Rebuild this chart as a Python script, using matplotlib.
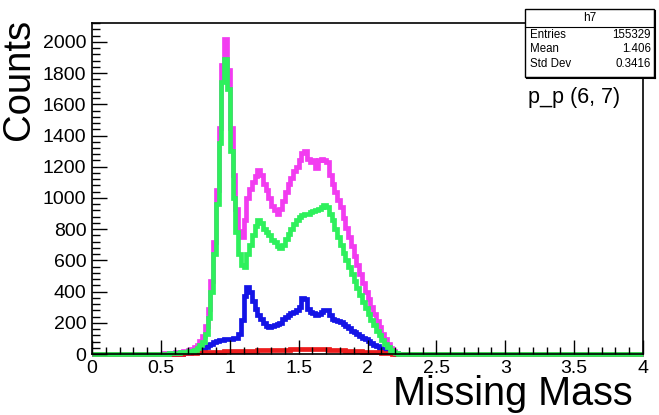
import numpy as np
import matplotlib
matplotlib.use("Agg")
import matplotlib.pyplot as plt
from matplotlib.ticker import MultipleLocator
from matplotlib.patches import Rectangle
from matplotlib.lines import Line2D

plt.rcParams['font.family'] = ['Liberation Sans', 'DejaVu Sans']

# Histogram binning: 200 bins of 0.02 over [0, 4]; filled region starts at 0.50
bin_width = 0.02
n_bins = 200
first_filled = 0.50

# Missing-mass spectra (counts per bin, starting at 0.50)
total_counts = [
    3, 4, 5, 6, 8,
    10, 12, 15, 18, 22,
    28, 35, 45, 60, 85,
    115, 180, 290, 470, 720,
    1050, 1450, 1850, 2020, 1820,
    1450, 1150, 930, 790, 750,
    860, 1000, 1060, 1100, 1140,
    1180, 1150, 1090, 1050, 1000,
    950, 920, 900, 930, 980,
    1040, 1090, 1130, 1170, 1200,
    1240, 1290, 1300, 1250, 1230,
    1240, 1190, 1240, 1250, 1240,
    1230, 1150, 1090, 1040, 990,
    940, 870, 810, 750, 690,
    630, 570, 510, 455, 400,
    350, 300, 255, 210, 170,
    130, 95, 65, 40, 20,
    8, 3, 1,
]
green_counts = [
    2, 3, 3, 4, 5,
    6, 8, 10, 12, 15,
    18, 22, 28, 38, 55,
    80, 130, 230, 400, 640,
    960, 1350, 1740, 1890, 1700,
    1300, 1000, 780, 640, 570,
    560, 640, 700, 760, 820,
    860, 840, 800, 780, 760,
    730, 715, 690, 680, 700,
    740, 770, 800, 830, 860,
    880, 890, 900, 900, 910,
    915, 920, 930, 945, 955,
    940, 900, 860, 800, 750,
    700, 650, 600, 555, 510,
    465, 420, 380, 335, 295,
    255, 220, 185, 150, 120,
    90, 65, 45, 28, 14,
    5, 2, 1,
]
blue_counts = [
    0, 0, 0, 0, 0,
    1, 2, 3, 4, 5,
    7, 10, 13, 18, 24,
    32, 42, 55, 65, 75,
    82, 88, 92, 95, 95,
    98, 100, 105, 130, 220,
    370, 430, 400, 340, 290,
    250, 225, 200, 180, 175,
    180, 185, 195, 200, 225,
    240, 250, 260, 270, 285,
    300, 360, 350, 290, 270,
    265, 250, 255, 270, 285,
    280, 250, 225, 215, 210,
    205, 195, 180, 165, 150,
    140, 130, 115, 105, 95,
    85, 72, 60, 50, 40,
    30, 22, 15, 10, 5,
    2, 0, 0,
]
red_counts = [
    0, 0, 0, 0, 0,
    1, 2, 3, 4, 5,
    6, 8, 9, 10, 11,
    12, 13, 14, 14, 15,
    15, 16, 16, 17, 17,
    18, 18, 19, 19, 20,
    20, 21, 21, 22, 22,
    23, 23, 24, 24, 25,
    25, 26, 26, 27, 27,
    28, 28, 29, 29, 30,
    30, 31, 31, 31, 31,
    31, 30, 30, 30, 29,
    29, 28, 27, 26, 25,
    24, 23, 22, 21, 20,
    19, 18, 17, 16, 15,
    14, 13, 12, 11, 10,
    9, 8, 6, 4, 2,
    1, 0, 0,
]

stats_title = "h7"
stats_rows = [("Entries", "155329"), ("Mean", "1.406"), ("Std Dev", "0.3416")]
pad_label = "p_p (6, 7)"

edges = np.round(np.linspace(0, n_bins * bin_width, n_bins + 1), 4)
start = int(round(first_filled / bin_width))


def full_hist(vals):
    h = np.zeros(n_bins)
    h[start:start + len(vals)] = vals
    return h


W, H = 659, 415
fig = plt.figure(figsize=(W / 100, H / 100), dpi=100)


def fx(px):
    return px / W


def fy(py):
    return 1 - py / H


ax_l, ax_r, ax_t, ax_b = 92, 643, 23, 354
ax = fig.add_axes([fx(ax_l), fy(ax_b), fx(ax_r) - fx(ax_l), fy(ax_t) - fy(ax_b)])

lw = 3.4
series = [
    (total_counts, "#f23cf0"),
    (blue_counts, "#1414e6"),
    (red_counts, "#ec1c1c"),
    (green_counts, "#2ef05c"),
]
for vals, col in series:
    ax.stairs(full_hist(vals), edges, color=col, lw=lw, baseline=0, clip_on=False)

ymax = 1.05 * max(total_counts)
ax.set_xlim(0, 4)
ax.set_ylim(0, ymax)

ax.xaxis.set_major_locator(MultipleLocator(0.5))
ax.xaxis.set_minor_locator(MultipleLocator(0.1))
ax.yaxis.set_major_locator(MultipleLocator(200))
ax.yaxis.set_minor_locator(MultipleLocator(40))
ax.set_xticks([0, 0.5, 1, 1.5, 2, 2.5, 3, 3.5, 4])
ax.set_xticklabels(["0", "0.5", "1", "1.5", "2", "2.5", "3", "3.5", "4"])
ax.tick_params(which="both", direction="in", top=False, right=False, labelsize=14,
               width=1.0)
ax.tick_params(axis="y", which="major", length=11, pad=4)
ax.tick_params(axis="y", which="minor", length=6)
ax.tick_params(axis="x", which="major", length=10, pad=4)
ax.tick_params(axis="x", which="minor", length=5)
for s in ax.spines.values():
    s.set_linewidth(1.2)

# Axis titles
fig.text(fx(1), fy(19), "Counts", rotation=90, ha="left", va="top", fontsize=27.5)
fig.text(fx(633), fy(405), "Missing Mass", ha="right", va="baseline", fontsize=28.5)

# Statistics box
bx0, by0, bx1, by1 = 525, 9, 654, 77
box = Rectangle((fx(bx0), fy(by1)), fx(bx1) - fx(bx0), fy(by0) - fy(by1),
                transform=fig.transFigure, facecolor="white", edgecolor="black",
                lw=1.0, zorder=5)
fig.add_artist(box)
fig.add_artist(Line2D([fx(bx1 + 1), fx(bx1 + 1)], [fy(by0 + 2), fy(by1 + 1)],
                      transform=fig.transFigure, color="black", lw=1.5, zorder=5))
fig.add_artist(Line2D([fx(bx0 + 2), fx(bx1 + 1)], [fy(by1 + 1), fy(by1 + 1)],
                      transform=fig.transFigure, color="black", lw=1.5, zorder=5))
fig.add_artist(Line2D([fx(bx0), fx(bx1)], [fy(27), fy(27)],
                      transform=fig.transFigure, color="black", lw=0.8, zorder=6))
fig.text(fx((bx0 + bx1) / 2), fy(18), stats_title, ha="center", va="center",
         fontsize=8.5, zorder=7)
for i, (k, v) in enumerate(stats_rows):
    yy = fy(35 + i * 14.5)
    fig.text(fx(530), yy, k, ha="left", va="center", fontsize=8.3, zorder=7)
    fig.text(fx(651), yy, v, ha="right", va="center", fontsize=8.3, zorder=7)

fig.text(fx(528), fy(98), pad_label, ha="left", va="center", fontsize=15.5)

fig.savefig("out.png", dpi=100)
